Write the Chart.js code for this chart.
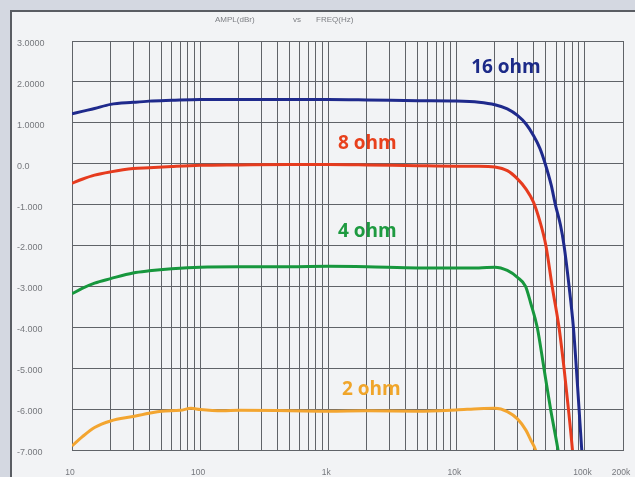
<!DOCTYPE html>
<html>
<head>
<meta charset="utf-8">
<script src="https://cdn.jsdelivr.net/npm/chart.js@4/dist/chart.umd.min.js"></script>
<style>
  html, body { margin: 0; padding: 0; background: #d4d8e1; overflow: hidden; }
  #sheet {
    position: absolute; left: 10px; top: 10px; width: 640px; height: 480px;
    border-left: 2px solid #5a5d63; border-top: 2px solid #5a5d63;
    background: #f2f3f5;
  }
  #wrap { position: absolute; left: 0; top: 0; width: 635px; height: 477px; }
</style>
</head>
<body>
<div id="sheet"></div>
<div id="wrap"><canvas id="c" width="635" height="477"></canvas></div>
<script>
// Frequency response per load (frequency in Hz, amplitude in dBr)
const freq16 = [10, 12, 15, 20, 30, 40, 60, 100, 200, 500, 1000, 2000, 5000, 10000, 15000, 20000, 25000, 30000, 35000, 40000, 45000, 49400, 55000, 59300, 65000, 69300, 75900, 82000, 86500, 90800, 95300, 98000];
const amp16  = [1.22, 1.28, 1.35, 1.45, 1.50, 1.53, 1.55, 1.57, 1.57, 1.57, 1.57, 1.56, 1.54, 1.53, 1.50, 1.44, 1.34, 1.18, 0.97, 0.69, 0.37, 0.0, -0.52, -1.0, -1.5, -2.0, -3.0, -4.0, -5.0, -6.0, -7.0, -7.5];

const freq8 = [10, 12, 15, 20, 30, 40, 60, 100, 200, 500, 1000, 2000, 5000, 10000, 15000, 20000, 25000, 30000, 35000, 40000, 45000, 50000, 56000, 63300, 69300, 75000, 80600, 83000];
const amp8  = [-0.48, -0.38, -0.28, -0.20, -0.12, -0.10, -0.07, -0.04, -0.03, -0.02, -0.02, -0.03, -0.05, -0.06, -0.06, -0.08, -0.17, -0.37, -0.62, -0.94, -1.42, -2.0, -3.0, -4.0, -5.0, -6.0, -7.0, -7.5];

const freq4 = [10, 12, 15, 20, 30, 40, 60, 100, 200, 500, 1000, 2000, 5000, 10000, 15000, 20000, 25000, 30000, 34700, 38000, 42800, 48300, 54400, 62200, 65000];
const amp4  = [-3.18, -3.05, -2.92, -2.81, -2.67, -2.62, -2.57, -2.53, -2.52, -2.52, -2.51, -2.52, -2.55, -2.55, -2.55, -2.53, -2.61, -2.78, -3.0, -3.4, -4.0, -5.0, -6.0, -7.0, -7.4];

const freq2 = [10, 12, 15, 20, 30, 40, 50, 70, 85, 100, 150, 200, 500, 1000, 2000, 5000, 10000, 15000, 20000, 25000, 30000, 35000, 38000, 41500, 43000];
const amp2  = [-6.9, -6.68, -6.45, -6.29, -6.18, -6.10, -6.05, -6.03, -5.98, -6.01, -6.04, -6.03, -6.04, -6.05, -6.04, -6.05, -6.02, -5.99, -5.98, -6.06, -6.24, -6.52, -6.75, -7.0, -7.2];

// Axis ticks
const yTickValues = [3, 2, 1, 0, -1, -2, -3, -4, -5, -6, -7];
const yTickLabels = ['3.0000', '2.0000', '1.0000', '0.0', '-1.000', '-2.000', '-3.000', '-4.000', '-5.000', '-6.000', '-7.000'];
const xLabelValues = [10, 100, 1000, 10000, 100000, 200000];
const xLabelTexts  = ['10', '100', '1k', '10k', '100k', '200k'];
const decades = [10, 100, 1000, 10000];

// Grid lines at 1..9 of every decade, then 100k and 200k
const xGridValues = [];
decades.forEach(d => { for (let m = 1; m <= 9; m++) xGridValues.push(d * m); });
xGridValues.push(100000, 200000);

const toPoints = (fs, as) => fs.map((f, i) => ({ x: f, y: as[i] }));

const series = [
  { label: '16 ohm', data: toPoints(freq16, amp16), color: '#1f2a8c' },
  { label: '8 ohm',  data: toPoints(freq8, amp8),   color: '#e63b1e' },
  { label: '4 ohm',  data: toPoints(freq4, amp4),   color: '#17973d' },
  { label: '2 ohm',  data: toPoints(freq2, amp2),   color: '#f3a530' }
];

// Curve names, placed in data coordinates
const curveNames = [
  { text: '16 ohm', color: '#1c2a88', freq: 24400, amp: 2.34 },
  { text: '8 ohm',  color: '#e8401c', freq: 2020,  amp: 0.48 },
  { text: '4 ohm',  color: '#1e9a40', freq: 2020,  amp: -1.67 },
  { text: '2 ohm',  color: '#f0a52a', freq: 2170,  amp: -5.53 }
];

const headerPlugin = {
  id: 'header',
  afterDraw(chart) {
    const c = chart.ctx;
    c.save();
    c.font = '8px "Liberation Sans"';
    c.fillStyle = '#7d7f84';
    c.textBaseline = 'middle';
    c.textAlign = 'left';
    c.fillText('AMPL(dBr)', 215, 20);
    c.fillText('vs', 293, 20);
    c.fillText('FREQ(Hz)', 316, 20);
    c.restore();
  }
};

const curveNamePlugin = {
  id: 'curveNames',
  afterDatasetsDraw(chart) {
    const c = chart.ctx;
    const xs = chart.scales.x, ys = chart.scales.y;
    c.save();
    c.font = 'bold 19px "Open Sans"';
    c.textAlign = 'center';
    c.textBaseline = 'middle';
    curveNames.forEach(n => {
      c.fillStyle = n.color;
      c.fillText(n.text, xs.getPixelForValue(n.freq), ys.getPixelForValue(n.amp));
    });
    c.restore();
  }
};

const gridColor = '#606368';
const tickColor = '#76787d';

new Chart(document.getElementById('c'), {
  type: 'line',
  data: {
    datasets: series.map(s => ({
      label: s.label,
      data: s.data,
      borderColor: s.color,
      backgroundColor: s.color,
      borderWidth: 3,
      pointRadius: 0,
      cubicInterpolationMode: 'monotone',
      fill: false
    }))
  },
  options: {
    responsive: false,
    animation: false,
    layout: { padding: { left: 17, top: 41, right: 12, bottom: 0 } },
    plugins: { legend: { display: false }, tooltip: { enabled: false }, title: { display: false } },
    scales: {
      x: {
        type: 'logarithmic',
        min: 10,
        max: 200000,
        afterBuildTicks: s => { s.ticks = xGridValues.map(v => ({ value: v })); },
        afterFit: s => { s.height = 27; s.paddingLeft = 0; s.paddingRight = 0; },
        grid: { color: gridColor, lineWidth: 1, drawTicks: false },
        border: { color: gridColor, width: 1 },
        ticks: {
          autoSkip: false, maxRotation: 0, minRotation: 0,
          padding: 18, labelOffset: -2,
          color: tickColor,
          font: { family: 'Liberation Sans', size: 8.5 },
          callback: v => { const i = xLabelValues.indexOf(v); return i >= 0 ? xLabelTexts[i] : ''; }
        }
      },
      y: {
        type: 'linear',
        min: -7,
        max: 3,
        afterBuildTicks: s => { s.ticks = yTickValues.map(v => ({ value: v })); },
        afterFit: s => { s.width = 55; s.paddingTop = 0; s.paddingBottom = 0; },
        grid: { color: gridColor, lineWidth: 1, drawTicks: false },
        border: { color: gridColor, width: 1 },
        ticks: {
          autoSkip: false,
          crossAlign: 'far',
          labelOffset: 2.5,
          color: tickColor,
          font: { family: 'Liberation Sans', size: 9 },
          callback: v => { const i = yTickValues.indexOf(v); return i >= 0 ? yTickLabels[i] : ''; }
        }
      }
    }
  },
  plugins: [headerPlugin, curveNamePlugin]
});
</script>
</body>
</html>
